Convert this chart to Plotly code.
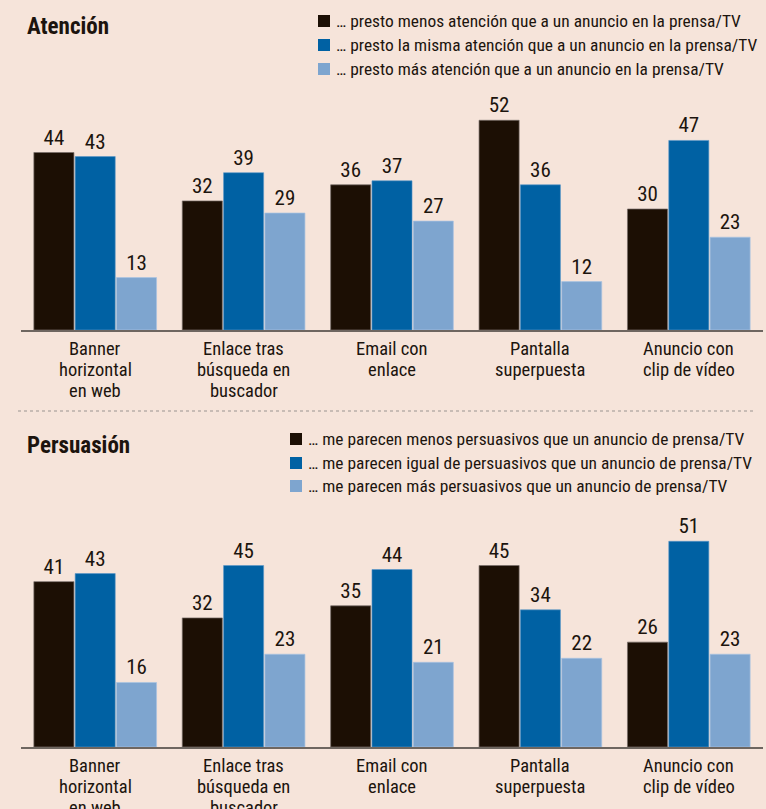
import plotly.graph_objects as go
from plotly.subplots import make_subplots

categories = ["Banner<br>horizontal<br>en web", "Enlace tras<br>búsqueda en<br>buscador",
              "Email con<br>enlace", "Pantalla<br>superpuesta", "Anuncio con<br>clip de vídeo"]

aten_names = ["… presto menos atención que a un anuncio en la prensa/TV",
              "… presto la misma atención que a un anuncio en la prensa/TV",
              "… presto más atención que a un anuncio en la prensa/TV"]
aten_menos = [44, 32, 36, 52, 30]
aten_misma = [43, 39, 37, 36, 47]
aten_mas = [13, 29, 27, 12, 23]

pers_names = ["… me parecen menos persuasivos que un anuncio de prensa/TV",
              "… me parecen igual de persuasivos que un anuncio de prensa/TV",
              "… me parecen más persuasivos que un anuncio de prensa/TV"]
pers_menos = [41, 32, 35, 45, 26]
pers_igual = [43, 45, 44, 34, 51]
pers_mas = [16, 23, 21, 22, 23]

colors = ["#1c0f04", "#0061a3", "#7ea5cf"]
outlines = ["rgba(120,110,105,0.7)", "rgba(90,150,200,0.6)", "rgba(170,195,225,0.7)"]
BG = "#f6e4da"
TXT = "#1c140e"
FONT = "Roboto Condensed, Liberation Sans Narrow, sans-serif"

W, H = 766, 809
ML, MR, MT, MB = 21, 3, 0, 0

def px(x):
    return (x - ML) / (W - ML - MR)

def py(y):
    return (H - y - MB) / (H - MT - MB)

fig = make_subplots(rows=2, cols=1)

panels = [
    (1, aten_names, [aten_menos, aten_misma, aten_mas]),
    (2, pers_names, [pers_menos, pers_igual, pers_mas]),
]
for row, names, series in panels:
    for name, vals, col, oc in zip(names, series, colors, outlines):
        fig.add_trace(go.Bar(
            x=categories, y=vals, name=name, marker=dict(color=col, line=dict(width=1, color=oc)),
            text=[str(v) for v in vals], textposition="outside",
            textfont=dict(family=FONT, size=21, color=TXT),
            cliponaxis=False, showlegend=False,
        ), row=row, col=1)

fig.update_yaxes(range=[0, 60], visible=False, showgrid=False)
fig.update_xaxes(showline=True, linecolor="#6e6660", linewidth=1.5, ticks="",
                 showticklabels=False, showgrid=False)
fig.update_layout(
    xaxis=dict(domain=[0, 1]), xaxis2=dict(domain=[0, 1]),
    yaxis=dict(domain=[py(330), py(88)]),
    yaxis2=dict(domain=[py(747), py(505)]),
)

annotations = []
shapes = []
# category labels, one line at a time (tight line spacing)
for xr, yr in [("x", "y"), ("x2", "y2")]:
    for cat in categories:
        for i, line in enumerate(cat.split("<br>")):
            annotations.append(dict(text=line, x=cat, y=0, xref=xr, yref=yr, xanchor="center",
                                    yanchor="middle", yshift=-(18.5 + 21 * i), showarrow=False,
                                    font=dict(family=FONT, size=18.5, color=TXT)))
for title, y in [("Atención", 27), ("Persuasión", 445)]:
    annotations.append(dict(text="<b>" + title + "</b>", x=px(25), y=py(y), xref="paper", yref="paper",
                            xanchor="left", yanchor="middle", showarrow=False,
                            font=dict(family=FONT, size=23, color=TXT)))
for names, sx, ys in [(aten_names, 318, [21, 45, 69]), (pers_names, 290, [439, 463, 486])]:
    for name, col, y in zip(names, colors, ys):
        shapes.append(dict(type="rect", xref="paper", yref="paper",
                           x0=px(sx), x1=px(sx + 12), y0=py(y + 6), y1=py(y - 6),
                           fillcolor=col, line=dict(width=0)))
        annotations.append(dict(text=name, x=px(sx + 16), y=py(y), xref="paper", yref="paper",
                                xanchor="left", yanchor="middle", showarrow=False,
                                font=dict(family=FONT, size=17.4, color=TXT)))
shapes.append(dict(type="line", xref="paper", yref="paper", x0=px(18), x1=px(756),
                   y0=py(411), y1=py(411), line=dict(color="#9a9390", width=1.2, dash="dot")))

fig.update_layout(
    width=W, height=H, autosize=False, margin=dict(l=ML, r=MR, t=MT, b=MB),
    paper_bgcolor=BG, plot_bgcolor=BG, barmode="group", bargap=0.165, bargroupgap=0.03,
    annotations=annotations, shapes=shapes, showlegend=False,
    font=dict(family=FONT, color=TXT),
)
ps = "document.body.style.margin='0';document.body.style.overflow='hidden';"
fig.write_html("out.html", post_script=ps, config={"displayModeBar": False, "responsive": False})
